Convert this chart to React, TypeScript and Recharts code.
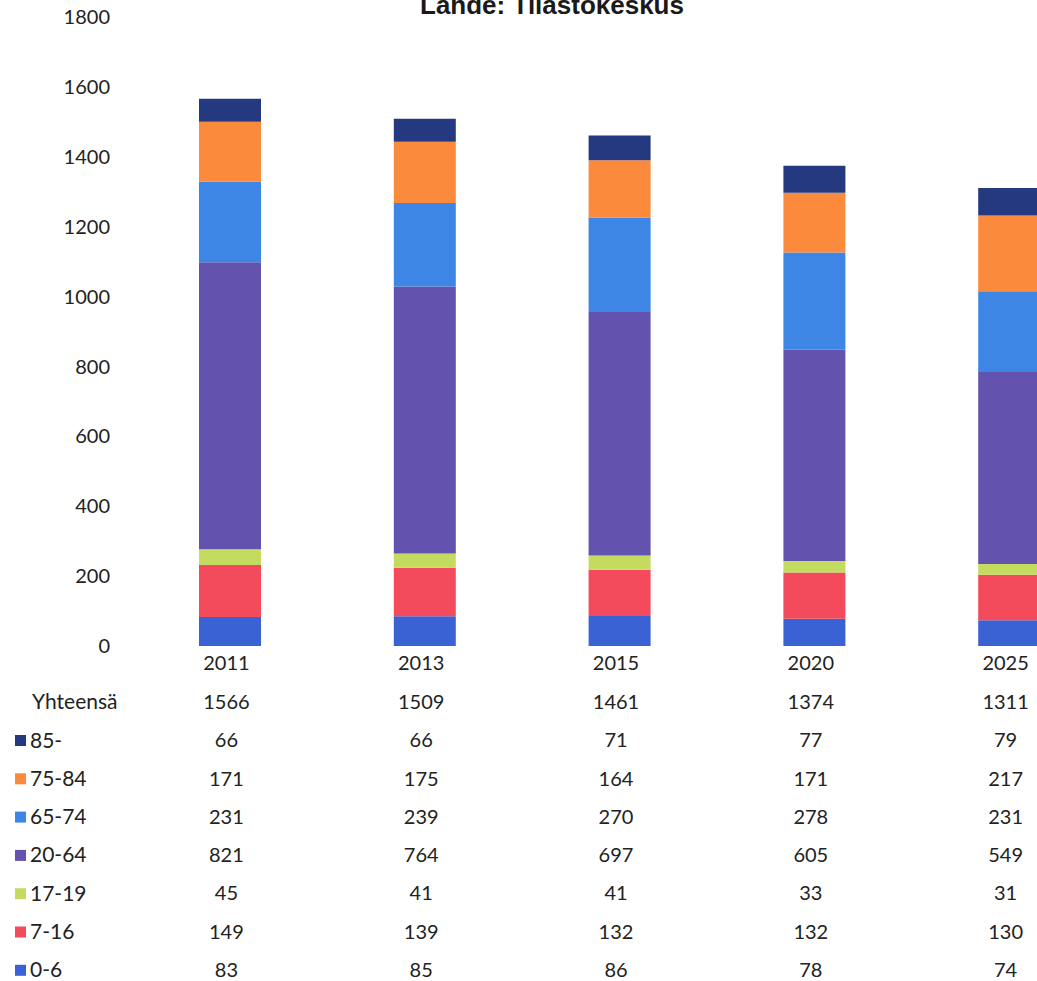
import React from 'react';
import { BarChart, Bar, XAxis, YAxis } from 'recharts';

const YEARS = ['2011', '2013', '2015', '2020', '2025'];
const TOTALS = [1566, 1509, 1461, 1374, 1311];

// bottom to top order of the stack
const AGE_0_6 = [83, 85, 86, 78, 74];
const AGE_7_16 = [149, 139, 132, 132, 130];
const AGE_17_19 = [45, 41, 41, 33, 31];
const AGE_20_64 = [821, 764, 697, 605, 549];
const AGE_65_74 = [231, 239, 270, 278, 231];
const AGE_75_84 = [171, 175, 164, 171, 217];
const AGE_85 = [66, 66, 71, 77, 79];

const Y_TICKS = [0, 200, 400, 600, 800, 1000, 1200, 1400, 1600, 1800];

const SERIES = [
  { key: 'a0_6', name: '0-6', values: AGE_0_6, color: '#3b62d4' },
  { key: 'a7_16', name: '7-16', values: AGE_7_16, color: '#f34a5c' },
  { key: 'a17_19', name: '17-19', values: AGE_17_19, color: '#c3dc5f' },
  { key: 'a20_64', name: '20-64', values: AGE_20_64, color: '#6453ae' },
  { key: 'a65_74', name: '65-74', values: AGE_65_74, color: '#3d86e6' },
  { key: 'a75_84', name: '75-84', values: AGE_75_84, color: '#fb8a3c' },
  { key: 'a85', name: '85-', values: AGE_85, color: '#24397f' },
];

// table rows, top to bottom
const TABLE_ROWS = [...SERIES].reverse();

const data = YEARS.map((year, i) => {
  const row: Record<string, string | number> = { year };
  SERIES.forEach((s) => {
    row[s.key] = s.values[i];
  });
  return row;
});

const FONT = 'Lato, "Open Sans", sans-serif';
const TEXT = '#222';
const PLOT_BOTTOM = 646;
const ROW_START = 55.7;
const ROW_STEP = 38.3;

const TableTick = ({ x, y, payload, index }: any) => {
  const cx = x - 4;
  return (
    <g fontFamily={FONT} fontSize={20} fill={TEXT}>
      <text x={cx} y={y + 17} dy="0.36em" textAnchor="middle">{payload.value}</text>
      <text x={cx} y={y + ROW_START} dy="0.36em" textAnchor="middle">{TOTALS[index]}</text>
      {TABLE_ROWS.map((s, k) => (
        <text key={s.key} x={cx} y={y + ROW_START + ROW_STEP * (k + 1)} dy="0.36em" textAnchor="middle">
          {s.values[index]}
        </text>
      ))}
    </g>
  );
};

export default function App() {
  return (
    <div style={{ position: 'absolute', left: 0, top: 0, width: 1037, height: 981, overflow: 'hidden', background: '#fff' }}>
      <BarChart
        width={1110}
        height={981}
        data={data}
        margin={{ top: 17, right: 3, left: 0, bottom: 0 }}
      >
        <XAxis
          dataKey="year"
          height={335}
          axisLine={false}
          tickLine={false}
          tickSize={0}
          tickMargin={0}
          interval={0}
          tick={<TableTick />}
        />
        <YAxis
          width={133}
          domain={[0, 1800]}
          ticks={Y_TICKS}
          axisLine={false}
          tickLine={false}
          tickSize={0}
          tickMargin={23}
          tick={{ fill: TEXT, fontSize: 20, fontFamily: FONT }}
        />
        {SERIES.map((s) => (
          <Bar key={s.key} dataKey={s.key} name={s.name} stackId="age" fill={s.color} barSize={62} isAnimationActive={false} />
        ))}
      </BarChart>

      <svg width={1037} height={981} style={{ position: 'absolute', left: 0, top: 0, pointerEvents: 'none' }}>
        <text x={552} y={14} textAnchor="middle" fontFamily='"Liberation Sans", Arial, sans-serif' fontWeight="bold" fontSize={26} fill="#1a1a1a">
          Lähde: Tilastokeskus
        </text>
        <g fontFamily={FONT} fontSize={21} fill={TEXT}>
          <text x={32} y={PLOT_BOTTOM + ROW_START} dy="0.36em">Yhteensä</text>
          {TABLE_ROWS.map((s, k) => {
            const cy = PLOT_BOTTOM + ROW_START + ROW_STEP * (k + 1);
            return (
              <g key={s.key}>
                <rect x={15} y={cy - 5} width={11} height={11} fill={s.color} />
                <text x={30} y={cy} dy="0.36em">{s.name}</text>
              </g>
            );
          })}
        </g>
      </svg>
    </div>
  );
}
